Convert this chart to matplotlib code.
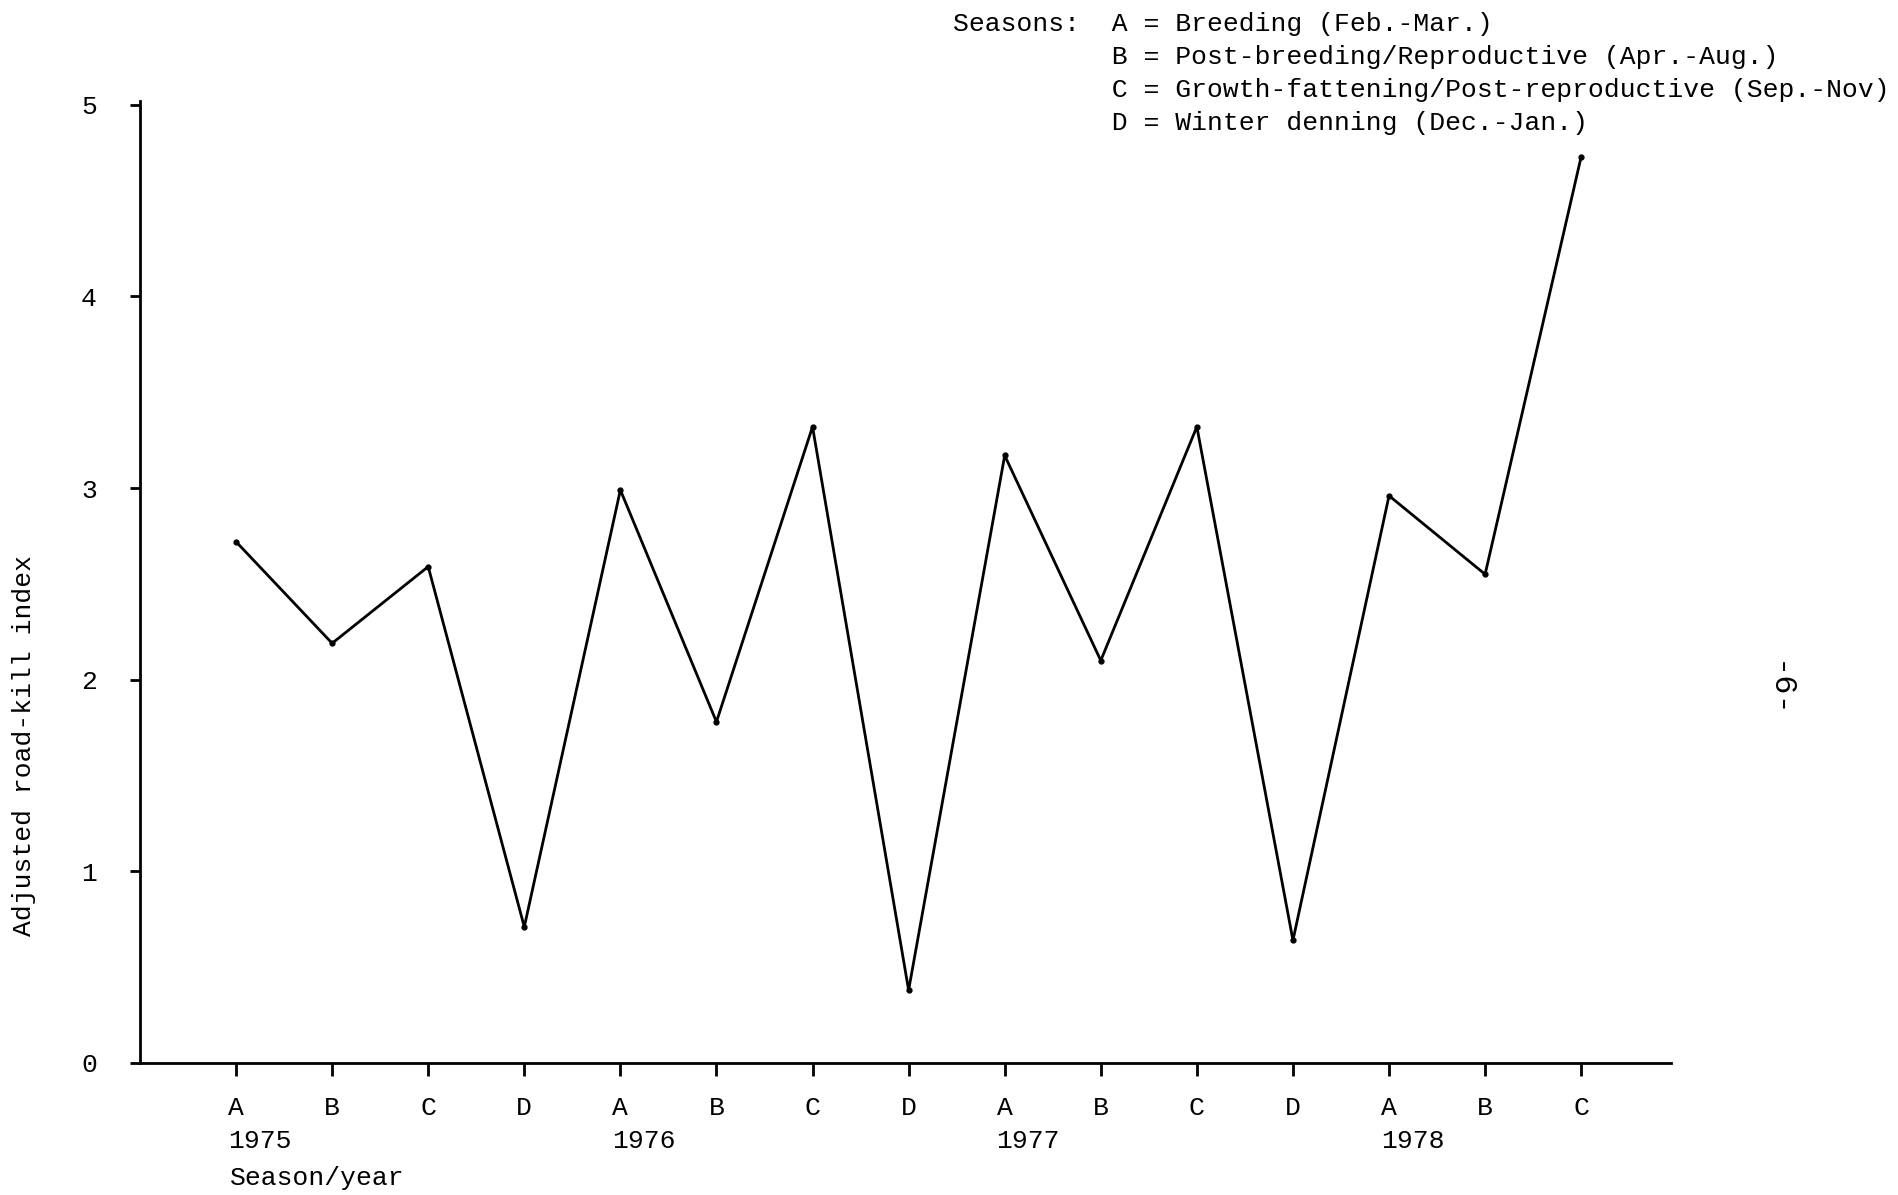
import matplotlib.pyplot as plt

plt.rcParams['font.family'] = ['Liberation Mono', 'DejaVu Sans Mono']

# season codes along the x axis, one point per season
seasons = ['A', 'B', 'C', 'D', 'A', 'B', 'C', 'D', 'A', 'B', 'C', 'D', 'A', 'B', 'C']
years = ['1975', '1976', '1977', '1978']
year_start = [0, 4, 8, 12]
index_values = [2.72, 2.19, 2.59, 0.71, 2.99, 1.78, 3.32, 0.38,
                3.17, 2.10, 3.32, 0.64, 2.96, 2.55, 4.73]

legend_lines = [
    'Seasons:  A = Breeding (Feb.-Mar.)',
    '          B = Post-breeding/Reproductive (Apr.-Aug.)',
    '          C = Growth-fattening/Post-reproductive (Sep.-Nov)',
    '          D = Winter denning (Dec.-Jan.)',
]

fs = 19

fig = plt.figure(figsize=(18.99, 11.95), dpi=100)
ax = fig.add_axes([0.0737, 0.1105, 0.806, 0.805])

x = list(range(len(index_values)))
ax.plot(x, index_values, color='black', lw=2, marker='o', ms=3.5)

ax.set_xlim(-1, 14.93)
ax.set_ylim(0, 5.02)

for side in ['top', 'right']:
    ax.spines[side].set_visible(False)
for side in ['left', 'bottom']:
    ax.spines[side].set_linewidth(2)

ax.set_xticks(x)
ax.set_xticklabels(seasons, fontsize=fs)
ax.set_yticks([0, 1, 2, 3, 4, 5])
ax.set_yticklabels(['0', '1', '2', '3', '4', '5'], fontsize=fs)
ax.tick_params(axis='x', direction='out', length=9, width=2, pad=15)
ax.tick_params(axis='y', direction='out', length=7, width=2, pad=24)

for yr, pos in zip(years, year_start):
    ax.annotate(yr, xy=(pos, 0), xycoords=('data', 'axes fraction'),
                xytext=(-6, -56), textcoords='offset points',
                ha='left', va='center', fontsize=fs)

fig.text(230 / 1899, 1 - 1178 / 1195, 'Season/year', fontsize=fs,
         ha='left', va='center')
fig.text(24 / 1899, 1 - 745 / 1195, 'Adjusted road-kill index', fontsize=fs,
         rotation=90, ha='center', va='center')

for i, line in enumerate(legend_lines):
    fig.text(953 / 1899, 1 - (24 + 33 * i) / 1195, line, fontsize=fs,
             ha='left', va='center')

fig.text(1778 / 1899, 1 - 690 / 1195, '-6-', fontsize=23, rotation=-90,
         ha='center', va='center')

fig.savefig('out.png', dpi=100)
